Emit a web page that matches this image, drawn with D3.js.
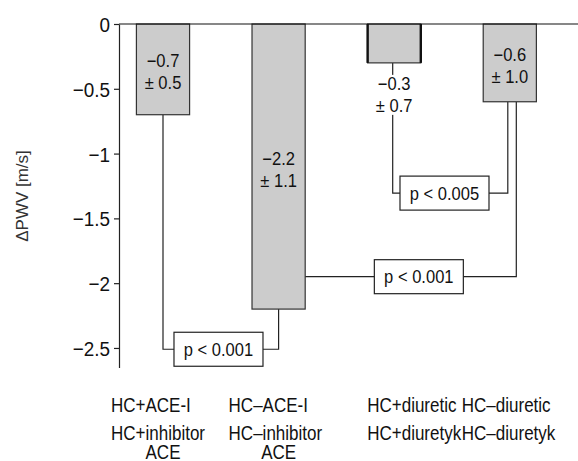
<!DOCTYPE html>
<html lang="en">
<head>
  <meta charset="UTF-8">
  <title>PWV change</title>
  <style>
    body { margin: 0; background: #fff; }
    text { font-family: 'Liberation Sans', Arial, sans-serif; fill: #111; }
  </style>
</head>
<body>

  <svg id="svg" width="578" height="461"></svg>

  <script src="https://d3js.org/d3.v7.min.js"></script>
  <script>
    // data
    const categories = ['HC+ACE-I', 'HC\u2013ACE-I', 'HC+diuretic', 'HC\u2013diuretic']
    const subLabels = ['HC+inhibitor', 'HC\u2013inhibitor', 'HC+diuretyk', 'HC\u2013diuretyk']
    const thirdLabels = ['ACE', 'ACE', '', '']
    const means = [-0.7, -2.2, -0.3, -0.6]
    const sds = [0.5, 1.1, 0.7, 1.0]
    const yTicks = [0, -0.5, -1, -1.5, -2, -2.5]
    const compFrom = [0, 2, 1]
    const compTo = [1, 3, 3]
    const compLevel = [-2.51, -1.305, -1.95]
    const compLabel = ['p < 0.001', 'p < 0.005', 'p < 0.001']

    // layout
    const fromDx = [0, -1.5, 0]
    const toDx = [0, -2, 6.5]
    const boxT = [0.48, 0.45, 0.59]
    const labelDx = [-52, -50, -27, -48]
    const svg = d3.select('#svg')
    const width = 578

    const x = d3.scaleBand()
      .domain(categories)
      .range([105.2, 567.6])
      .paddingInner(0.54)
      .paddingOuter(0.27)
    const y = d3.scaleLinear()
      .domain([0, -2.65])
      .range([24, 367.4])
    const cx = i => x(categories[i]) + x.bandwidth() / 2
    const fmt = v => d3.format('.1f')(v).replace('-', '\u2212')

    // condensed text: draw at origin, then squeeze horizontally
    function label(parent, tx, ty, str, size, anchor, sx) {
      return parent.append('text')
        .attr('transform', `translate(${tx},${ty}) scale(${sx},1)`)
        .attr('text-anchor', anchor || 'start')
        .style('font-size', size + 'px')
        .text(str)
    }

    // y axis
    const tickScale = 0.9
    const yAxis = svg.append('g')
      .attr('transform', 'translate(119,0)')
      .call(d3.axisLeft(y).tickValues(yTicks).tickSize(5).tickSizeOuter(0).tickPadding(5)
        .tickFormat(d => d === 0 ? '0' : d3.format('')(d)))
    yAxis.select('.domain').attr('stroke', '#222').attr('stroke-width', 1.2)
    yAxis.selectAll('.tick line').attr('stroke', '#222').attr('stroke-width', 1.2)
    yAxis.selectAll('.tick text')
      .style('font-size', '21px')
      .style('font-family', "'Liberation Sans', Arial, sans-serif")
      .attr('fill', '#111')
      .attr('dy', '0.36em')
      .attr('x', -9 / tickScale)
      .attr('transform', `scale(${tickScale},1)`)

    svg.append('text')
      .attr('transform', 'translate(28,196) rotate(-90)')
      .attr('text-anchor', 'middle')
      .style('font-size', '17px')
      .style('fill', '#333')
      .text('\u0394PWV [m/s]')

    // brackets (under bars)
    const brackets = svg.append('g')
    compLabel.forEach((lab, k) => {
      const i = compFrom[k], j = compTo[k]
      const x1 = cx(i) + fromDx[k]
      const x2 = cx(j) + toDx[k]
      const yl = y(compLevel[k])
      brackets.append('path')
        .attr('d', d3.line()([[x1, y(means[i])], [x1, yl], [x2, yl], [x2, y(means[j])]]))
        .attr('fill', 'none')
        .attr('stroke', '#222')
        .attr('stroke-width', 1.2)
      const bx = x1 + (x2 - x1) * boxT[k]
      brackets.append('rect')
        .attr('x', bx - 44.5)
        .attr('y', yl - 17)
        .attr('width', 89)
        .attr('height', 34)
        .attr('fill', '#fff')
        .attr('stroke', '#222')
        .attr('stroke-width', 1.2)
      label(brackets, bx, yl + 6.5, lab, 18, 'middle', 0.92)
    })

    // bars
    svg.append('g')
      .selectAll('rect')
      .data(means)
      .join('rect')
      .attr('x', (d, i) => x(categories[i]))
      .attr('y', y(0))
      .attr('width', x.bandwidth())
      .attr('height', d => y(d) - y(0))
      .attr('fill', '#cccccc')
      .attr('stroke', '#333')
      .attr('stroke-width', 1.2)

    // thick sides on the short bar
    means.forEach((d, i) => {
      if (y(d) - y(0) > 50) return
      ;[x(categories[i]), x(categories[i]) + x.bandwidth()].forEach(sx => {
        svg.append('line')
          .attr('x1', sx).attr('x2', sx)
          .attr('y1', y(0)).attr('y2', y(d))
          .attr('stroke', '#111')
          .attr('stroke-width', 2.4)
      })
    })

    // zero line
    svg.append('line')
      .attr('x1', 119).attr('x2', width)
      .attr('y1', y(0)).attr('y2', y(0))
      .attr('stroke', '#111')
      .attr('stroke-width', 1.2)

    // value labels
    means.forEach((d, i) => {
      const h = y(d) - y(0)
      const inside = h > 50
      const b1 = inside ? y(0) + h / 2 - 2 : y(d) + 27
      const g = svg.append('g')
      if (!inside) {
        g.append('rect')
          .attr('x', cx(i) - 19).attr('y', b1 - 15)
          .attr('width', 38).attr('height', 40)
          .attr('fill', '#fff')
      }
      label(g, cx(i), b1, fmt(d), 18, 'middle', 0.92)
      label(g, cx(i), b1 + 22, '\u00b1 ' + d3.format('.1f')(sds[i]), 18, 'middle', 0.92)
    })

    // category labels
    const catScale = 0.81
    categories.forEach((c, i) => {
      const lx = cx(i) + labelDx[i]
      label(svg, lx, 412, c, 21, 'start', catScale)
      label(svg, lx, 440, subLabels[i], 21, 'start', catScale)
      if (thirdLabels[i]) label(svg, cx(i), 459, thirdLabels[i], 21, 'middle', catScale)
    })
  </script>
</body>
</html>
